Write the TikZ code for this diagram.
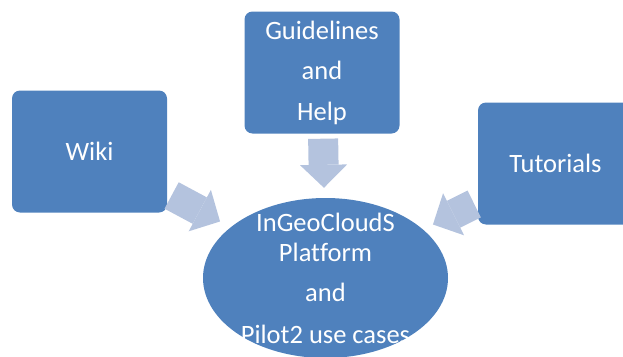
\documentclass[tikz,border=0pt]{standalone}
\usepackage{fontspec}
\setmainfont{Carlito}[Ligatures=NoCommon]
\usepackage{xcolor}
\usetikzlibrary{shapes,arrows.meta,positioning,calc}
\definecolor{boxblue}{RGB}{79,129,189}
\definecolor{feedblue}{RGB}{180,195,222}

\begin{document}
\begin{tikzpicture}[x=1pt, y=-1pt,
    box/.style={fill=boxblue, rounded corners=8pt, minimum width=155pt, minimum height=122pt, text=white, align=center, font=\fontsize{26.5}{40.5}\selectfont},
    hub/.style={ellipse, fill=boxblue, minimum width=245pt, minimum height=160pt, inner sep=0pt},
    hubtext/.style={text=white, align=center, font=\fontsize{26.5}{30}\selectfont},
    feed/.style={draw=feedblue, line width=30pt, -{Triangle[line width=0pt, length=23pt 0 1, width=47pt 0 1, fill=feedblue]}}]
    \useasboundingbox (0,0) rectangle (623,356);

    % Platform
    \node [hub] (platform) at (325.5,278) {};
    \node [hubtext] (hubtxt) at (platform.center) {InGeoCloudS\\Platform\\[10pt]and\\[12pt]Pilot2 use cases};

    % Sources
    \node [box, above of=platform, node distance=205.5pt, xshift=-3.5pt] (guide) {Guidelines\\and\\Help};
    \node [box, left of=platform, node distance=236pt, yshift=126.5pt] (wiki) {Wiki};
    \node [box, right of=platform, node distance=230pt, yshift=114.5pt] (tutor) {Tutorials};

    % Block arrows
    \draw [feed, shorten <=5pt, shorten >=12pt] (wiki) -- (platform);
    \draw [feed, shorten <=5pt, shorten >=10pt] (guide) -- (platform);
    \draw [feed, shorten <=4pt, shorten >=11pt] (tutor) -- (platform);

\end{tikzpicture}
\end{document}
